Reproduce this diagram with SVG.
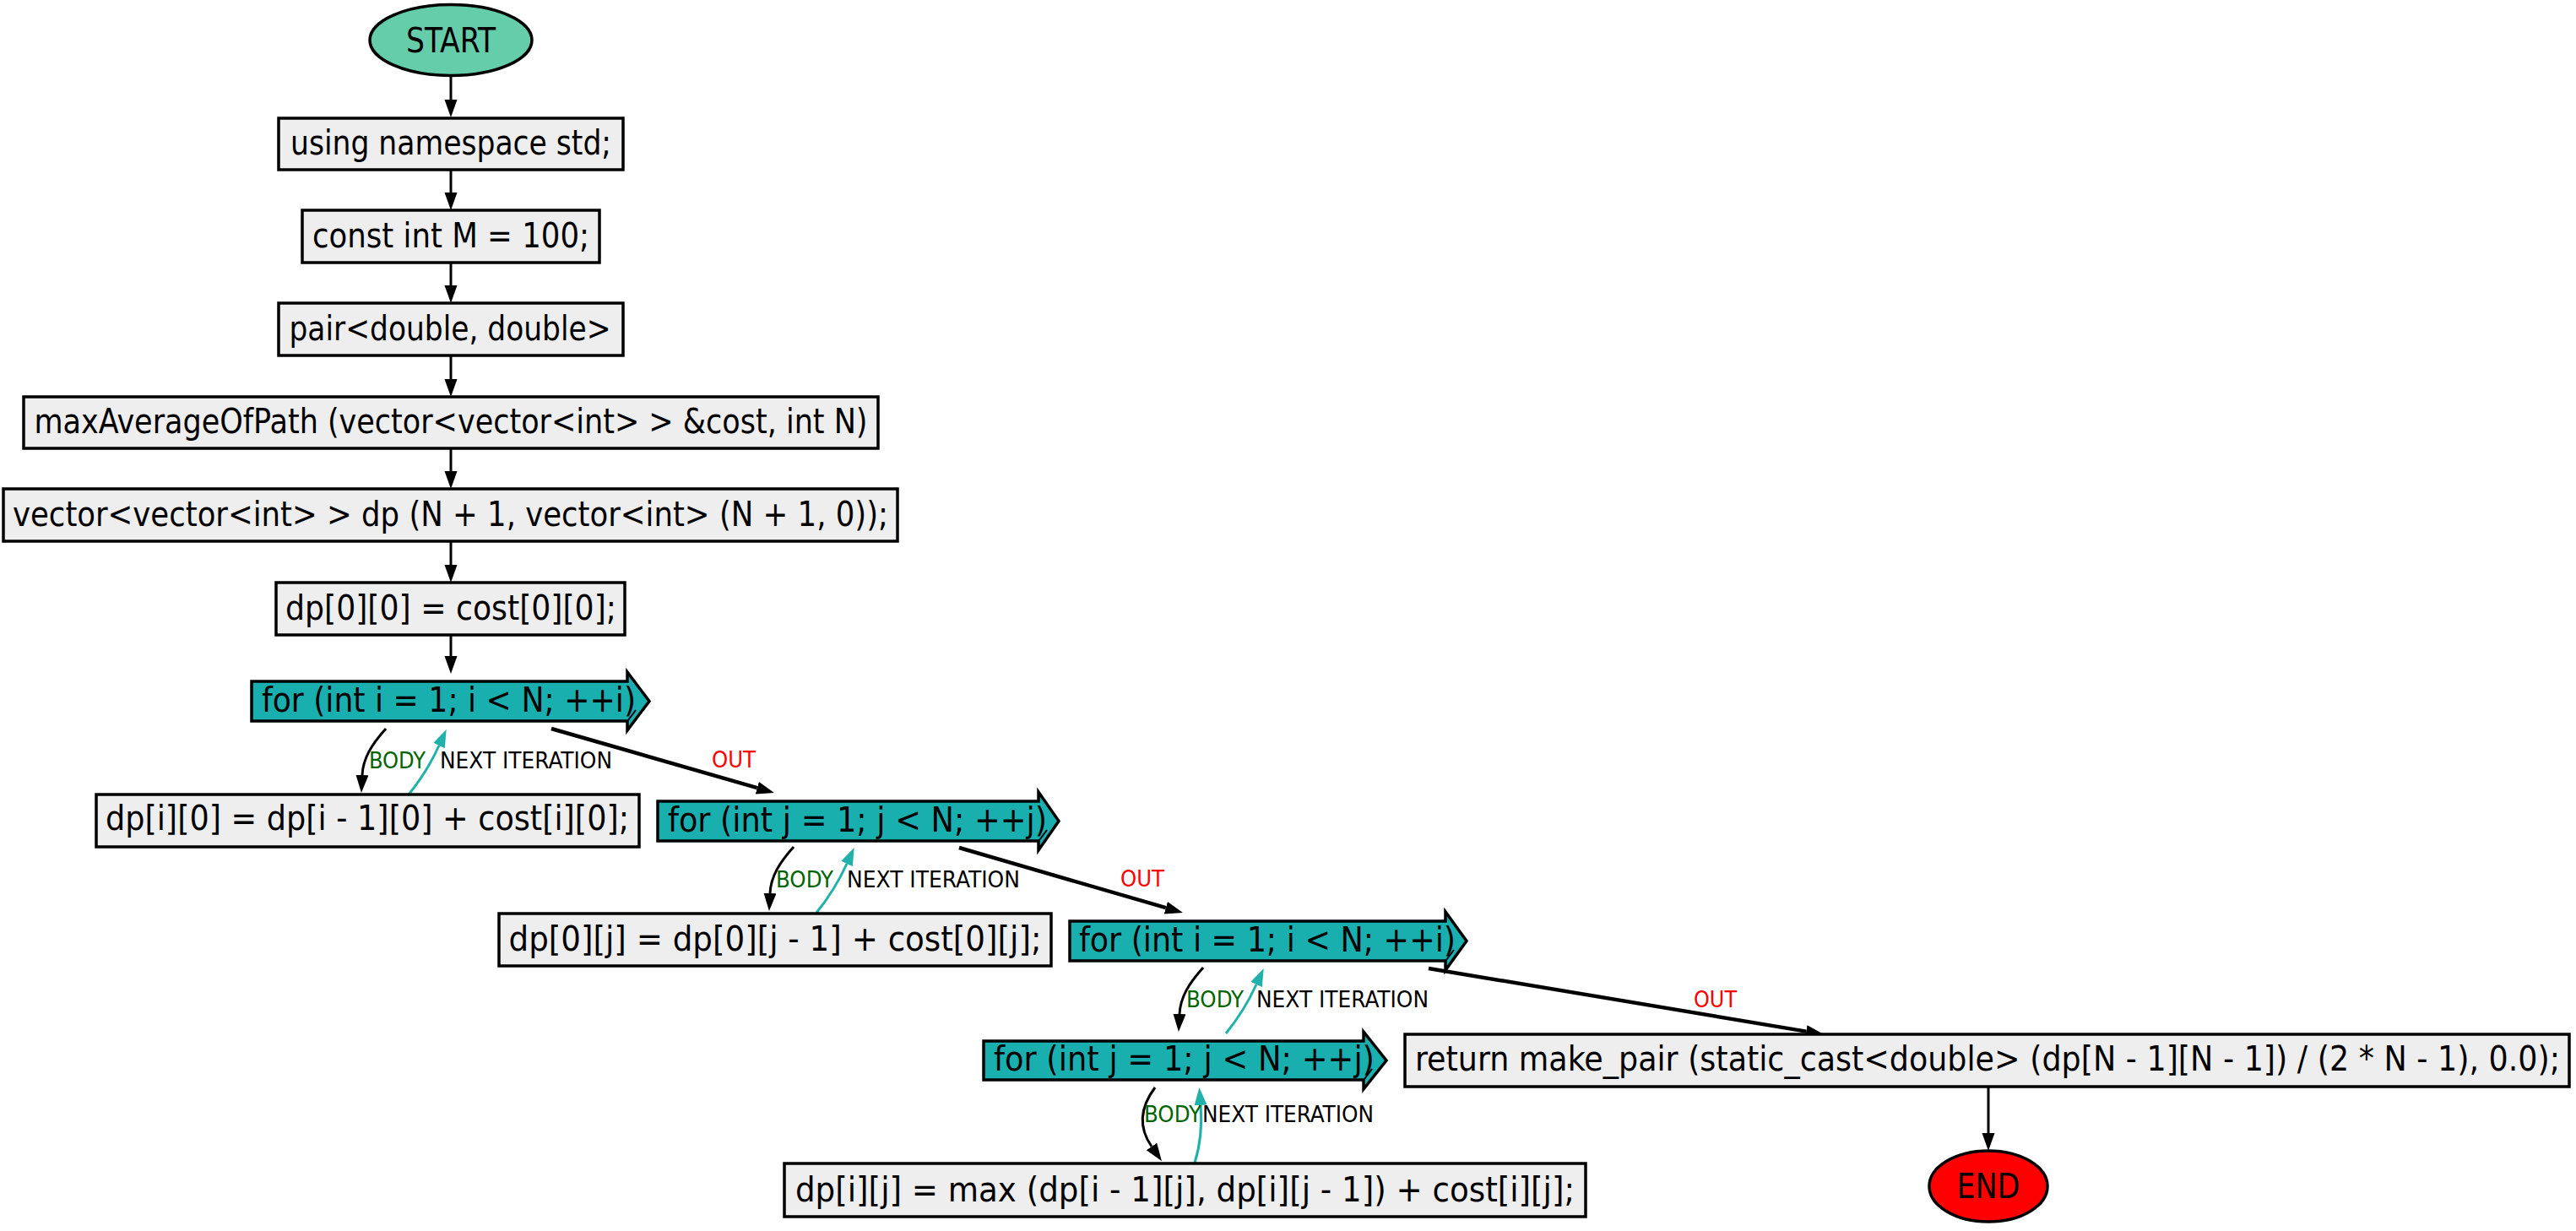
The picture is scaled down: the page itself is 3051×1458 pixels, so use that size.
<svg xmlns="http://www.w3.org/2000/svg" width="3051" height="1458" viewBox="0 0 3051 1458">
<style>
.bg{fill:#ffffff}
.box{fill:#eeeeee;stroke:#000;stroke-width:3.5}
.loop{fill:#19afaf;stroke:#000;stroke-width:3.5;stroke-linejoin:miter}
.inner{fill:none;stroke:#000;stroke-width:2}
.t{font-family:"DejaVu Sans Condensed","DejaVu Sans",sans-serif;font-size:40px;fill:#000}
.lbl{font-family:"DejaVu Sans Condensed","DejaVu Sans",sans-serif;font-size:27px}
.e{fill:none;stroke:#000;stroke-width:3}
.out{fill:none;stroke:#000;stroke-width:4.5}
.nx{fill:none;stroke:#20b2aa;stroke-width:3}
</style>
<defs>
<marker id="ah" markerUnits="userSpaceOnUse" markerWidth="22" markerHeight="16" refX="0" refY="7.5" orient="auto"><path d="M0,0 L21,7.5 L0,15 z" fill="#000"/></marker>
<marker id="ahT" markerUnits="userSpaceOnUse" markerWidth="22" markerHeight="16" refX="0" refY="7.5" orient="auto"><path d="M0,0 L21,7.5 L0,15 z" fill="#20b2aa"/></marker>
</defs>
<rect class="bg" x="0" y="0" width="3051" height="1458"/>
<g id="connectors">
<path class="e" d="M534,90 L534,118" marker-end="url(#ah)"/>
<path class="e" d="M534,202 L534,228" marker-end="url(#ah)"/>
<path class="e" d="M534,312 L534,338" marker-end="url(#ah)"/>
<path class="e" d="M534,422 L534,449" marker-end="url(#ah)"/>
<path class="e" d="M534,532 L534,558" marker-end="url(#ah)"/>
<path class="e" d="M534,642 L534,669" marker-end="url(#ah)"/>
<path class="e" d="M534,753 L534,777" marker-end="url(#ah)"/>
<path class="e" d="M457,863 C440,882 430,898 429,918" marker-end="url(#ah)"/>
<path class="nx" d="M484,941 C497,925 510,905 520,883" marker-end="url(#ahT)"/>
<path class="out" d="M653,863 L896.8,933.2" marker-end="url(#ah)"/>
<path class="e" d="M940,1003 C923,1022 913,1038 912,1058" marker-end="url(#ah)"/>
<path class="nx" d="M967,1081 C980,1065 993,1045 1003,1023" marker-end="url(#ahT)"/>
<path class="out" d="M1136,1004 L1380.8,1075.2" marker-end="url(#ah)"/>
<path class="e" d="M1425,1146 C1408,1165 1398,1181 1397,1201" marker-end="url(#ah)"/>
<path class="nx" d="M1452,1224 C1465,1208 1478,1188 1488,1166" marker-end="url(#ahT)"/>
<path class="out" d="M1692,1147 L2139.3,1221.6" marker-end="url(#ah)"/>
<path class="e" d="M1368,1288 C1350,1312 1348,1335 1364,1358" marker-end="url(#ah)"/>
<path class="nx" d="M1415,1377 C1422,1355 1424,1335 1422,1309" marker-end="url(#ahT)"/>
<path class="e" d="M2355,1288 L2355,1342" marker-end="url(#ah)"/>
<text class="lbl" x="437" y="910" fill="#006400" textLength="67" lengthAdjust="spacingAndGlyphs">BODY</text>
<text class="lbl" x="521" y="910" fill="#000" textLength="204" lengthAdjust="spacingAndGlyphs">NEXT ITERATION</text>
<text class="lbl" x="843" y="909" fill="#ff0000" textLength="52" lengthAdjust="spacingAndGlyphs">OUT</text>
<text class="lbl" x="919" y="1051" fill="#006400" textLength="68" lengthAdjust="spacingAndGlyphs">BODY</text>
<text class="lbl" x="1003" y="1051" fill="#000" textLength="205" lengthAdjust="spacingAndGlyphs">NEXT ITERATION</text>
<text class="lbl" x="1327" y="1050" fill="#ff0000" textLength="52" lengthAdjust="spacingAndGlyphs">OUT</text>
<text class="lbl" x="1405" y="1193" fill="#006400" textLength="68" lengthAdjust="spacingAndGlyphs">BODY</text>
<text class="lbl" x="1488" y="1193" fill="#000" textLength="204" lengthAdjust="spacingAndGlyphs">NEXT ITERATION</text>
<text class="lbl" x="2006" y="1193" fill="#ff0000" textLength="51" lengthAdjust="spacingAndGlyphs">OUT</text>
<text class="lbl" x="1355" y="1329" fill="#006400" textLength="68" lengthAdjust="spacingAndGlyphs">BODY</text>
<text class="lbl" x="1424" y="1329" fill="#000" textLength="203" lengthAdjust="spacingAndGlyphs">NEXT ITERATION</text>
</g>
<g id="start">
<ellipse cx="534" cy="47.5" rx="96" ry="42" fill="#66cdaa" stroke="#000" stroke-width="3.5"/>
<text class="t" x="534" y="62" text-anchor="middle" textLength="106" lengthAdjust="spacingAndGlyphs">START</text>
</g>
<g id="n_using">
<rect class="box" x="330" y="140" width="408" height="61"/>
<text class="t" x="534" y="183" text-anchor="middle" textLength="380" lengthAdjust="spacingAndGlyphs">using namespace std;</text>
</g>
<g id="n_const">
<rect class="box" x="358" y="249" width="352" height="62"/>
<text class="t" x="534" y="293" text-anchor="middle" textLength="328" lengthAdjust="spacingAndGlyphs">const int M = 100;</text>
</g>
<g id="n_pair">
<rect class="box" x="330" y="359" width="408" height="62"/>
<text class="t" x="533" y="403" text-anchor="middle" textLength="381" lengthAdjust="spacingAndGlyphs">pair&lt;double, double&gt;</text>
</g>
<g id="n_func">
<rect class="box" x="28" y="470" width="1012" height="61"/>
<text class="t" x="534" y="513" text-anchor="middle" textLength="987" lengthAdjust="spacingAndGlyphs">maxAverageOfPath (vector&lt;vector&lt;int&gt; &gt; &amp;cost, int N)</text>
</g>
<g id="n_vector">
<rect class="box" x="4" y="579" width="1059" height="62"/>
<text class="t" x="533.5" y="623" text-anchor="middle" textLength="1037" lengthAdjust="spacingAndGlyphs">vector&lt;vector&lt;int&gt; &gt; dp (N + 1, vector&lt;int&gt; (N + 1, 0));</text>
</g>
<g id="n_dp00">
<rect class="box" x="327" y="690" width="413" height="62"/>
<text class="t" x="534" y="734" text-anchor="middle" textLength="392" lengthAdjust="spacingAndGlyphs">dp[0][0] = cost[0][0];</text>
</g>
<g id="n_for_i1">
<polygon class="loop" points="298,807 743,807 743,796 769,830.5 743,865 743,854 298,854"/>
<path class="inner" d="M744,853 L753,841"/>
<text class="t" x="310" y="843" textLength="443" lengthAdjust="spacingAndGlyphs">for (int i = 1; i &lt; N; ++i)</text>
</g>
<g id="n_dpi0">
<rect class="box" x="114" y="941" width="643" height="62"/>
<text class="t" x="435" y="983" text-anchor="middle" textLength="620" lengthAdjust="spacingAndGlyphs">dp[i][0] = dp[i - 1][0] + cost[i][0];</text>
</g>
<g id="n_for_j1">
<polygon class="loop" points="779,949 1230,949 1230,938 1254,972.5 1230,1007 1230,996 779,996"/>
<path class="inner" d="M1231,995 L1240,983"/>
<text class="t" x="791" y="985" textLength="449" lengthAdjust="spacingAndGlyphs">for (int j = 1; j &lt; N; ++j)</text>
</g>
<g id="n_dp0j">
<rect class="box" x="591" y="1082" width="654" height="62"/>
<text class="t" x="918" y="1126" text-anchor="middle" textLength="631" lengthAdjust="spacingAndGlyphs">dp[0][j] = dp[0][j - 1] + cost[0][j];</text>
</g>
<g id="n_for_i2">
<polygon class="loop" points="1267,1091 1712,1091 1712,1080 1737,1114.5 1712,1149 1712,1138 1267,1138"/>
<path class="inner" d="M1713,1137 L1722,1125"/>
<text class="t" x="1278" y="1127" textLength="446" lengthAdjust="spacingAndGlyphs">for (int i = 1; i &lt; N; ++i)</text>
</g>
<g id="n_for_j2">
<polygon class="loop" points="1165,1233 1615,1233 1615,1222 1642,1256 1615,1290 1615,1279 1165,1279"/>
<path class="inner" d="M1616,1278 L1625,1266"/>
<text class="t" x="1177" y="1268" textLength="451" lengthAdjust="spacingAndGlyphs">for (int j = 1; j &lt; N; ++j)</text>
</g>
<g id="n_return">
<rect class="box" x="1664" y="1225" width="1379" height="62"/>
<text class="t" x="1676" y="1268" textLength="1356" lengthAdjust="spacingAndGlyphs">return make_pair (static_cast&lt;double&gt; (dp[N - 1][N - 1]) / (2 * N - 1), 0.0);</text>
</g>
<g id="n_dpij">
<rect class="box" x="929" y="1378" width="949" height="63"/>
<text class="t" x="942" y="1423" textLength="923" lengthAdjust="spacingAndGlyphs">dp[i][j] = max (dp[i - 1][j], dp[i][j - 1]) + cost[i][j];</text>
</g>
<g id="end">
<ellipse cx="2355" cy="1405" rx="70" ry="42" fill="#ff0000" stroke="#000" stroke-width="3.5"/>
<text class="t" x="2355" y="1419" text-anchor="middle" textLength="75" lengthAdjust="spacingAndGlyphs">END</text>
</g>
</svg>
